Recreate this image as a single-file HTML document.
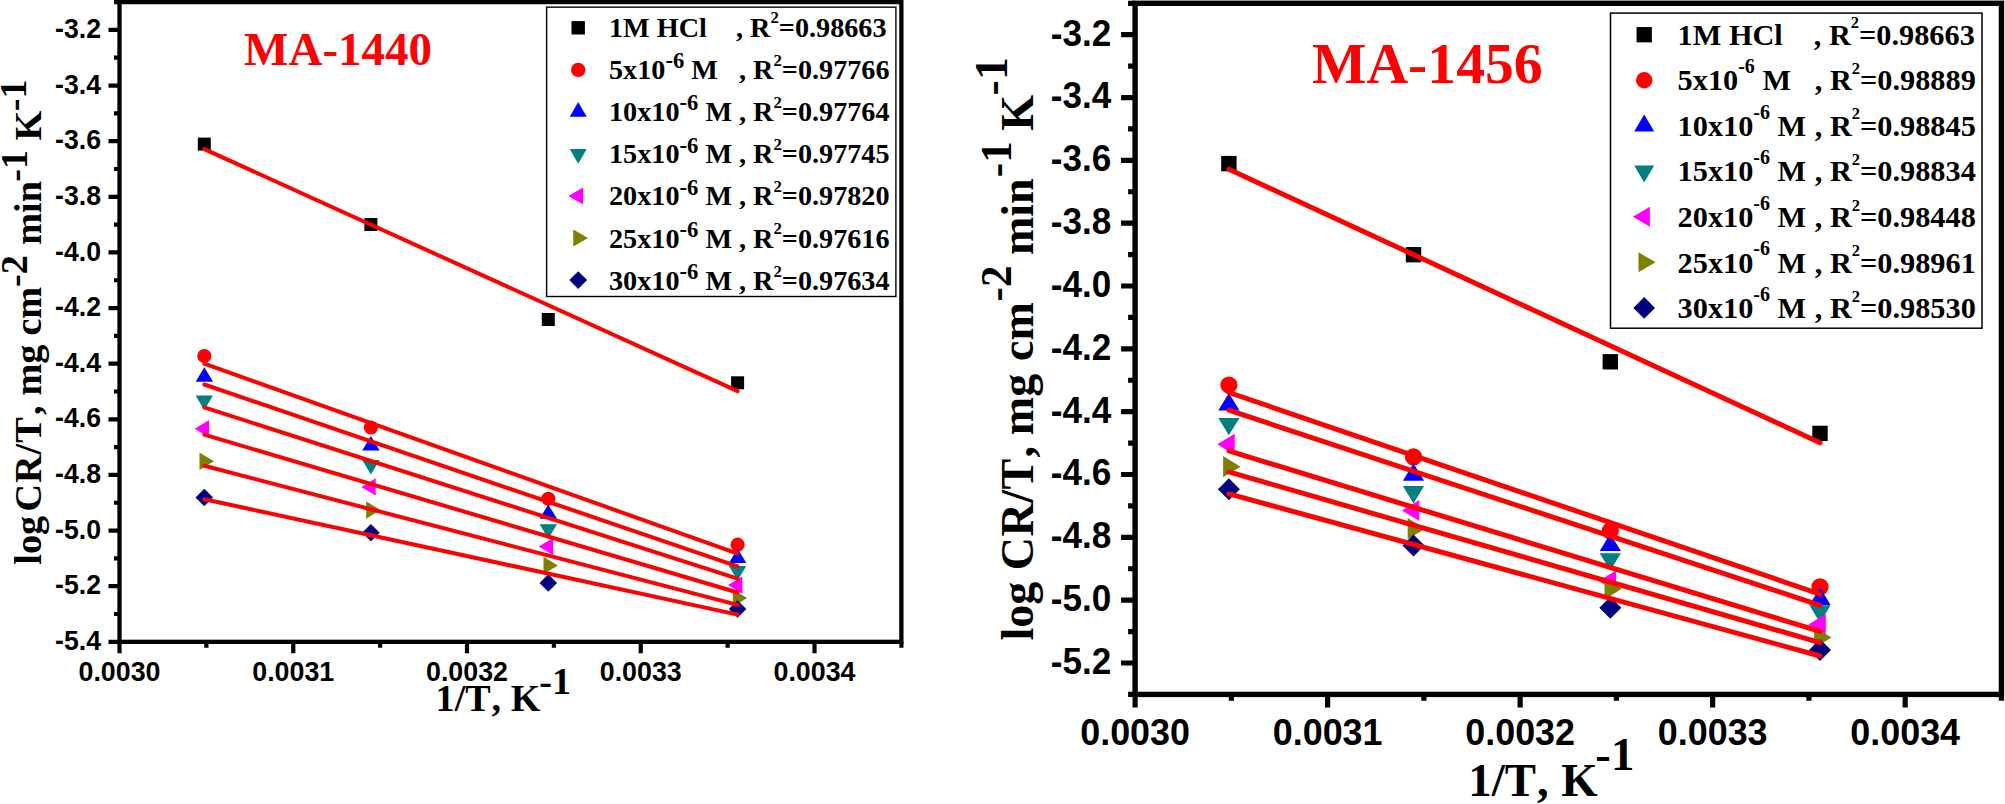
<!DOCTYPE html>
<html lang="en">
<head>
<meta charset="utf-8">
<title>Arrhenius transition-state plots: MA-1440 and MA-1456</title>
<style>
html, body { margin: 0; padding: 0; background: #ffffff; }
body { width: 2005px; height: 804px; overflow: hidden; }
svg { display: block; }
text { white-space: pre; }
</style>
</head>
<body>
<svg width="2005" height="804" viewBox="0 0 2005 804">
<rect x="0" y="0" width="2005" height="804" fill="#ffffff"/>
<g id="plot-left">
<rect x="119.5" y="2.08" width="781.87" height="639.75" fill="none" stroke="#000" stroke-width="4.3"/>
<path d="M119.5 2.08H114M119.5 29.9H108.5M119.5 57.72H114M119.5 85.53H108.5M119.5 113.34H114M119.5 141.16H108.5M119.5 168.98H114M119.5 196.79H108.5M119.5 224.61H114M119.5 252.42H108.5M119.5 280.23H114M119.5 308.05H108.5M119.5 335.87H114M119.5 363.68H108.5M119.5 391.49H114M119.5 419.31H108.5M119.5 447.12H114M119.5 474.94H108.5M119.5 502.75H114M119.5 530.57H108.5M119.5 558.38H114M119.5 586.2H108.5M119.5 614.02H114M119.5 641.83H108.5M119.5 641.83V653.23M206.38 641.83V647.83M293.25 641.83V653.23M380.12 641.83V647.83M467 641.83V653.23M553.88 641.83V647.83M640.75 641.83V653.23M727.63 641.83V647.83M814.5 641.83V653.23M901.37 641.83V647.83" stroke="#000" stroke-width="4.2" fill="none"/>
<g font-family="'Liberation Sans', Arial, sans-serif" font-weight="bold" font-size="26.7" text-anchor="end">
<text transform="translate(101,38) scale(1,1.035)">-3.2</text>
<text transform="translate(101,93.63) scale(1,1.035)">-3.4</text>
<text transform="translate(101,149.26) scale(1,1.035)">-3.6</text>
<text transform="translate(101,204.89) scale(1,1.035)">-3.8</text>
<text transform="translate(101,260.52) scale(1,1.035)">-4.0</text>
<text transform="translate(101,316.15) scale(1,1.035)">-4.2</text>
<text transform="translate(101,371.78) scale(1,1.035)">-4.4</text>
<text transform="translate(101,427.41) scale(1,1.035)">-4.6</text>
<text transform="translate(101,483.04) scale(1,1.035)">-4.8</text>
<text transform="translate(101,538.67) scale(1,1.035)">-5.0</text>
<text transform="translate(101,594.3) scale(1,1.035)">-5.2</text>
<text transform="translate(101,649.93) scale(1,1.035)">-5.4</text>
</g>
<g font-family="'Liberation Sans', Arial, sans-serif" font-weight="bold" font-size="26.8" text-anchor="middle">
<text transform="translate(119.5,681) scale(1,1.035)">0.0030</text>
<text transform="translate(293.25,681) scale(1,1.035)">0.0031</text>
<text transform="translate(467,681) scale(1,1.035)">0.0032</text>
<text transform="translate(640.75,681) scale(1,1.035)">0.0033</text>
<text transform="translate(814.5,681) scale(1,1.035)">0.0034</text>
</g>
<rect x="197.8" y="137.6" width="13" height="13" fill="#000000"/>
<rect x="364.4" y="218" width="13" height="13" fill="#000000"/>
<rect x="541.8" y="313" width="13" height="13" fill="#000000"/>
<rect x="731.1" y="376.3" width="13" height="13" fill="#000000"/>
<circle cx="204.3" cy="356.1" r="7.1" fill="#ff0000"/>
<circle cx="370.9" cy="427.5" r="7.1" fill="#ff0000"/>
<circle cx="548.3" cy="498.8" r="7.1" fill="#ff0000"/>
<circle cx="737.6" cy="544.7" r="7.1" fill="#ff0000"/>
<polygon points="204.3,367.3 195.6,381.7 213,381.7" fill="#0000ff"/>
<polygon points="370.9,436 362.2,450.4 379.6,450.4" fill="#0000ff"/>
<polygon points="548.3,504.4 539.6,518.8 557,518.8" fill="#0000ff"/>
<polygon points="737.6,548.6 728.9,563 746.3,563" fill="#0000ff"/>
<polygon points="204.3,409.9 195.6,395.5 213,395.5" fill="#008080"/>
<polygon points="370.9,474.4 362.2,460 379.6,460" fill="#008080"/>
<polygon points="548.3,538.7 539.6,524.3 557,524.3" fill="#008080"/>
<polygon points="737.6,580.4 728.9,566 746.3,566" fill="#008080"/>
<polygon points="194.7,428.7 209.1,420 209.1,437.4" fill="#ff00ff"/>
<polygon points="361.3,486.9 375.7,478.2 375.7,495.6" fill="#ff00ff"/>
<polygon points="538.7,546.6 553.1,537.9 553.1,555.3" fill="#ff00ff"/>
<polygon points="728,585.1 742.4,576.4 742.4,593.8" fill="#ff00ff"/>
<polygon points="213.9,461.3 199.5,452.6 199.5,470" fill="#808000"/>
<polygon points="380.5,510 366.1,501.3 366.1,518.7" fill="#808000"/>
<polygon points="557.9,565.4 543.5,556.7 543.5,574.1" fill="#808000"/>
<polygon points="747.2,598.1 732.8,589.4 732.8,606.8" fill="#808000"/>
<polygon points="204.3,488.7 213.1,497.5 204.3,506.3 195.5,497.5" fill="#000080"/>
<polygon points="370.9,523.9 379.7,532.7 370.9,541.5 362.1,532.7" fill="#000080"/>
<polygon points="548.3,574.2 557.1,583 548.3,591.8 539.5,583" fill="#000080"/>
<polygon points="737.6,600.2 746.4,609 737.6,617.8 728.8,609" fill="#000080"/>
<path d="M204.3 149.1L737.6 391.1M204.3 363.6L737.6 553.7M204.3 384.5L737.6 566.4M204.3 407.4L737.6 578.7M204.3 434.7L737.6 592.5M204.3 465.8L737.6 604.9M204.3 499.2L737.6 614.6" stroke="#ff0000" stroke-width="4" stroke-linecap="round" fill="none"/>
<text x="244.1" y="65.1" font-family="'Liberation Serif', 'Times New Roman', serif" font-weight="bold" font-size="47" fill="#ff0000">MA-1440</text>
<text x="435.6" y="711.1" font-family="'Liberation Serif', 'Times New Roman', serif" font-weight="bold" font-size="38.1">1/T<tspan dx="3.8">,</tspan><tspan dx="0.2"> K</tspan><tspan dx="-1.2" dy="-17.4">-1</tspan></text>
<text transform="translate(40.5,564.7) rotate(-90) scale(1,1)" font-family="'Liberation Serif', 'Times New Roman', serif" font-weight="bold" font-size="38.2"><tspan x="0.05" y="0">log</tspan><tspan x="53.13" y="0" letter-spacing="1.0">CR/T</tspan><tspan x="149.6" y="0">,</tspan><tspan x="169.17" y="0">mg</tspan><tspan x="229.09" y="0">cm</tspan><tspan x="277.8" y="-13.6">-2</tspan><tspan x="319.97" y="0">min</tspan><tspan x="383" y="-13.6">-1</tspan><tspan x="424.15" y="0">K</tspan><tspan x="453.5" y="-14.2">-1</tspan></text>
<rect x="546.6" y="7.15" width="349.3" height="289.35" fill="#fff" stroke="#000" stroke-width="1.4"/>
<g font-family="'Liberation Serif', 'Times New Roman', serif" font-weight="bold" font-size="28.2">
<rect x="571.5" y="21.1" width="13.4" height="13.4" fill="#000000"/>
<text x="609" y="36.6">1M HCl</text>
<text x="736" y="36.6">, R<tspan font-size="16.8" dy="-13.2">2</tspan><tspan dy="13.2">=0.98663</tspan></text>
<circle cx="578.2" cy="69.85" r="7.2" fill="#ff0000"/>
<text x="609" y="78.8">5x10<tspan font-size="22.7" dy="-10.7">-6</tspan><tspan dy="10.7"> M</tspan></text>
<text x="739" y="78.8">, R<tspan font-size="16.8" dy="-13.2">2</tspan><tspan dy="13.2">=0.97766</tspan></text>
<polygon points="578.2,102.03 569.7,116.83 586.7,116.83" fill="#0000ff"/>
<text x="609" y="121">10x10<tspan font-size="22.7" dy="-10.7">-6</tspan><tspan dy="10.7"> M</tspan></text>
<text x="739" y="121">, R<tspan font-size="16.8" dy="-13.2">2</tspan><tspan dy="13.2">=0.97764</tspan></text>
<polygon points="578.2,163.82 569.7,149.02 586.7,149.02" fill="#008080"/>
<text x="609" y="163.2">15x10<tspan font-size="22.7" dy="-10.7">-6</tspan><tspan dy="10.7"> M</tspan></text>
<text x="739" y="163.2">, R<tspan font-size="16.8" dy="-13.2">2</tspan><tspan dy="13.2">=0.97745</tspan></text>
<polygon points="568.33,196 583.13,187.5 583.13,204.5" fill="#ff00ff"/>
<text x="609" y="205.4">20x10<tspan font-size="22.7" dy="-10.7">-6</tspan><tspan dy="10.7"> M</tspan></text>
<text x="739" y="205.4">, R<tspan font-size="16.8" dy="-13.2">2</tspan><tspan dy="13.2">=0.97820</tspan></text>
<polygon points="588.07,238.05 573.27,229.55 573.27,246.55" fill="#808000"/>
<text x="609" y="247.6">25x10<tspan font-size="22.7" dy="-10.7">-6</tspan><tspan dy="10.7"> M</tspan></text>
<text x="739" y="247.6">, R<tspan font-size="16.8" dy="-13.2">2</tspan><tspan dy="13.2">=0.97616</tspan></text>
<polygon points="578.2,271.2 587.1,280.1 578.2,289 569.3,280.1" fill="#000080"/>
<text x="609" y="289.8">30x10<tspan font-size="22.7" dy="-10.7">-6</tspan><tspan dy="10.7"> M</tspan></text>
<text x="739" y="289.8">, R<tspan font-size="16.8" dy="-13.2">2</tspan><tspan dy="13.2">=0.97634</tspan></text>
</g>
</g>
<g id="plot-right">
<rect x="1135.1" y="3.28" width="866.34" height="691.13" fill="none" stroke="#000" stroke-width="5.4"/>
<path d="M1135.1 3.28H1128.1M1135.1 34.7H1121.1M1135.1 66.12H1128.1M1135.1 97.53H1121.1M1135.1 128.94H1128.1M1135.1 160.36H1121.1M1135.1 191.77H1128.1M1135.1 223.19H1121.1M1135.1 254.61H1128.1M1135.1 286.02H1121.1M1135.1 317.43H1128.1M1135.1 348.85H1121.1M1135.1 380.27H1128.1M1135.1 411.68H1121.1M1135.1 443.09H1128.1M1135.1 474.51H1121.1M1135.1 505.92H1128.1M1135.1 537.34H1121.1M1135.1 568.75H1128.1M1135.1 600.17H1121.1M1135.1 631.58H1128.1M1135.1 663H1121.1M1135.1 694.42H1128.1M1135.1 694.41V707.62M1231.36 694.41V700.81M1327.62 694.41V707.62M1423.88 694.41V700.81M1520.14 694.41V707.62M1616.4 694.41V700.81M1712.66 694.41V707.62M1808.92 694.41V700.81M1905.18 694.41V707.62M2001.44 694.41V700.81" stroke="#000" stroke-width="5.2" fill="none"/>
<g font-family="'Liberation Sans', Arial, sans-serif" font-weight="bold" font-size="35.1" text-anchor="end">
<text transform="translate(1111.2,45.6) scale(1,1.04)">-3.2</text>
<text transform="translate(1111.2,108.43) scale(1,1.04)">-3.4</text>
<text transform="translate(1111.2,171.26) scale(1,1.04)">-3.6</text>
<text transform="translate(1111.2,234.09) scale(1,1.04)">-3.8</text>
<text transform="translate(1111.2,296.92) scale(1,1.04)">-4.0</text>
<text transform="translate(1111.2,359.75) scale(1,1.04)">-4.2</text>
<text transform="translate(1111.2,422.58) scale(1,1.04)">-4.4</text>
<text transform="translate(1111.2,485.41) scale(1,1.04)">-4.6</text>
<text transform="translate(1111.2,548.24) scale(1,1.04)">-4.8</text>
<text transform="translate(1111.2,611.07) scale(1,1.04)">-5.0</text>
<text transform="translate(1111.2,673.9) scale(1,1.04)">-5.2</text>
</g>
<g font-family="'Liberation Sans', Arial, sans-serif" font-weight="bold" font-size="35.9" text-anchor="middle">
<text transform="translate(1135.1,745.2) scale(1,1.04)">0.0030</text>
<text transform="translate(1327.62,745.2) scale(1,1.04)">0.0031</text>
<text transform="translate(1520.14,745.2) scale(1,1.04)">0.0032</text>
<text transform="translate(1712.66,745.2) scale(1,1.04)">0.0033</text>
<text transform="translate(1905.18,745.2) scale(1,1.04)">0.0034</text>
</g>
<rect x="1221.2" y="155.9" width="15.4" height="15.4" fill="#000000"/>
<rect x="1405.8" y="247" width="15.4" height="15.4" fill="#000000"/>
<rect x="1602.6" y="354.1" width="15.4" height="15.4" fill="#000000"/>
<rect x="1812.3" y="425.7" width="15.4" height="15.4" fill="#000000"/>
<circle cx="1228.9" cy="385" r="8.6" fill="#ff0000"/>
<circle cx="1413.5" cy="456.9" r="8.6" fill="#ff0000"/>
<circle cx="1610.3" cy="530.9" r="8.6" fill="#ff0000"/>
<circle cx="1820" cy="586.8" r="8.6" fill="#ff0000"/>
<polygon points="1228.9,393 1218.3,410.4 1239.5,410.4" fill="#0000ff"/>
<polygon points="1413.5,463.3 1402.9,480.7 1424.1,480.7" fill="#0000ff"/>
<polygon points="1610.3,533.5 1599.7,550.9 1620.9,550.9" fill="#0000ff"/>
<polygon points="1820,587.5 1809.4,604.9 1830.6,604.9" fill="#0000ff"/>
<polygon points="1228.9,435.3 1218.3,417.9 1239.5,417.9" fill="#008080"/>
<polygon points="1413.5,503.4 1402.9,486 1424.1,486" fill="#008080"/>
<polygon points="1610.3,570.7 1599.7,553.3 1620.9,553.3" fill="#008080"/>
<polygon points="1820,622.7 1809.4,605.3 1830.6,605.3" fill="#008080"/>
<polygon points="1217.3,444.3 1234.7,433.7 1234.7,454.9" fill="#ff00ff"/>
<polygon points="1401.9,510.5 1419.3,499.9 1419.3,521.1" fill="#ff00ff"/>
<polygon points="1598.7,581 1616.1,570.4 1616.1,591.6" fill="#ff00ff"/>
<polygon points="1808.4,624.5 1825.8,613.9 1825.8,635.1" fill="#ff00ff"/>
<polygon points="1240.5,466.7 1223.1,456.1 1223.1,477.3" fill="#808000"/>
<polygon points="1425.1,528.7 1407.7,518.1 1407.7,539.3" fill="#808000"/>
<polygon points="1621.9,588.8 1604.5,578.2 1604.5,599.4" fill="#808000"/>
<polygon points="1831.6,637.4 1814.2,626.8 1814.2,648" fill="#808000"/>
<polygon points="1228.9,478.2 1239.9,489.2 1228.9,500.2 1217.9,489.2" fill="#000080"/>
<polygon points="1413.5,534.5 1424.5,545.5 1413.5,556.5 1402.5,545.5" fill="#000080"/>
<polygon points="1610.3,596.8 1621.3,607.8 1610.3,618.8 1599.3,607.8" fill="#000080"/>
<polygon points="1820,638.9 1831,649.9 1820,660.9 1809,649.9" fill="#000080"/>
<path d="M1228.9 169.2L1820 442.8M1228.9 392.5L1820 594.1M1228.9 410.2L1820 605.3M1228.9 450.9L1820 631.4M1228.9 471.9L1820 642.6M1228.9 493.8L1820 656" stroke="#ff0000" stroke-width="5" stroke-linecap="round" fill="none"/>
<text x="1312" y="82.6" font-family="'Liberation Serif', 'Times New Roman', serif" font-weight="bold" font-size="57.7" fill="#ff0000">MA-1456</text>
<text x="1468.3" y="796" font-family="'Liberation Serif', 'Times New Roman', serif" font-weight="bold" font-size="46.8">1/T<tspan dx="4.5">,</tspan><tspan dx="0.9"> K</tspan><tspan dx="-2.3" dy="-26.2">-1</tspan></text>
<text transform="translate(1033.1,640.6) rotate(-90) scale(1,1.03)" font-family="'Liberation Serif', 'Times New Roman', serif" font-weight="bold" font-size="46"><tspan x="0" y="0">log</tspan><tspan x="70.45" y="0" letter-spacing="0.5">CR/T</tspan><tspan x="183.19" y="0">,</tspan><tspan x="205.46" y="0">mg</tspan><tspan x="279.63" y="0">cm</tspan><tspan x="339.23" y="-21.3" font-size="43">-2</tspan><tspan x="385.56" y="0">min</tspan><tspan x="463.43" y="-21.3" font-size="43">-1</tspan><tspan x="509.91" y="0">K</tspan><tspan x="545.22" y="-25.2">-1</tspan></text>
<rect x="1610.5" y="13.1" width="371.5" height="315.1" fill="#fff" stroke="#000" stroke-width="1.5"/>
<g font-family="'Liberation Serif', 'Times New Roman', serif" font-weight="bold" font-size="30.3">
<rect x="1636.55" y="27.05" width="15.3" height="15.3" fill="#000000"/>
<text x="1677.6" y="44.6">1M HCl</text>
<text x="1813.8" y="44.6">, R<tspan font-size="16.5" dy="-16.5">2</tspan><tspan dy="16.5">=0.98663</tspan></text>
<circle cx="1644.2" cy="80.23" r="8.25" fill="#ff0000"/>
<text x="1677.6" y="90.22">5x10<tspan font-size="20" dy="-17.3">-6</tspan><tspan dy="17.3"> M</tspan></text>
<text x="1814.8" y="90.22">, R<tspan font-size="16.5" dy="-16.5">2</tspan><tspan dy="16.5">=0.98889</tspan></text>
<polygon points="1644.2,114.43 1634.2,131.43 1654.2,131.43" fill="#0000ff"/>
<text x="1677.6" y="135.84">10x10<tspan font-size="20" dy="-17.3">-6</tspan><tspan dy="17.3"> M</tspan></text>
<text x="1814.8" y="135.84">, R<tspan font-size="16.5" dy="-16.5">2</tspan><tspan dy="16.5">=0.98845</tspan></text>
<polygon points="1644.2,182.62 1634.2,165.62 1654.2,165.62" fill="#008080"/>
<text x="1677.6" y="181.46">15x10<tspan font-size="20" dy="-17.3">-6</tspan><tspan dy="17.3"> M</tspan></text>
<text x="1814.8" y="181.46">, R<tspan font-size="16.5" dy="-16.5">2</tspan><tspan dy="16.5">=0.98834</tspan></text>
<polygon points="1632.87,216.82 1649.87,206.82 1649.87,226.82" fill="#ff00ff"/>
<text x="1677.6" y="227.08">20x10<tspan font-size="20" dy="-17.3">-6</tspan><tspan dy="17.3"> M</tspan></text>
<text x="1814.8" y="227.08">, R<tspan font-size="16.5" dy="-16.5">2</tspan><tspan dy="16.5">=0.98448</tspan></text>
<polygon points="1655.53,262.35 1638.53,252.35 1638.53,272.35" fill="#808000"/>
<text x="1677.6" y="272.7">25x10<tspan font-size="20" dy="-17.3">-6</tspan><tspan dy="17.3"> M</tspan></text>
<text x="1814.8" y="272.7">, R<tspan font-size="16.5" dy="-16.5">2</tspan><tspan dy="16.5">=0.98961</tspan></text>
<polygon points="1644.2,297.08 1655,307.88 1644.2,318.68 1633.4,307.88" fill="#000080"/>
<text x="1677.6" y="318.32">30x10<tspan font-size="20" dy="-17.3">-6</tspan><tspan dy="17.3"> M</tspan></text>
<text x="1814.8" y="318.32">, R<tspan font-size="16.5" dy="-16.5">2</tspan><tspan dy="16.5">=0.98530</tspan></text>
</g>
</g>
</svg>
</body>
</html>
